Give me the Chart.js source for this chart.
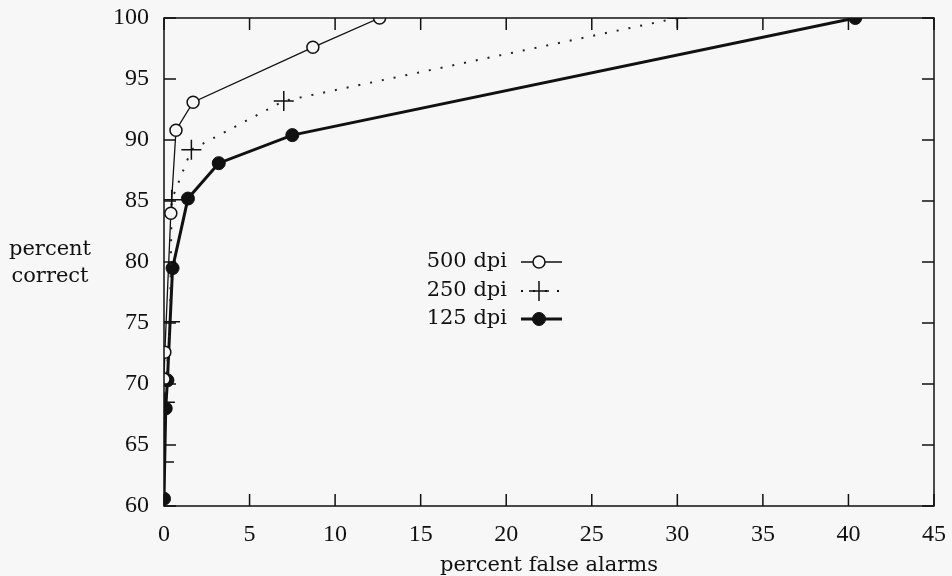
<!DOCTYPE html>
<html>
<head>
<meta charset="utf-8">
<script src="https://cdn.jsdelivr.net/npm/chart.js@4.4.1/dist/chart.umd.min.js"></script>
<style>
    html, body { margin: 0; padding: 0; background: #f7f7f7; }
    #wrap { width: 952px; height: 576px; }
</style>
</head>
<body>
<div id="wrap"><canvas id="roc-chart" width="952" height="576"></canvas></div>
<script>
// values
const xTicks = [0, 5, 10, 15, 20, 25, 30, 35, 40, 45];
const yTicks = [60, 65, 70, 75, 80, 85, 90, 95, 100];

const dpi500X = [12.6, 8.7, 1.7, 0.7, 0.4, 0.05, 0.0];
const dpi500Y = [100, 97.6, 93.1, 90.8, 84.0, 72.6, 70.4];

const dpi250X = [30.0, 7.0, 1.6, 0.45, 0.35, 0.05, 0.0];
const dpi250Y = [100, 93.2, 89.2, 85.1, 75.1, 68.5, 63.6];

const dpi125X = [40.4, 7.5, 3.2, 1.4, 0.5, 0.2, 0.1, 0.0];
const dpi125Y = [100, 90.4, 88.1, 85.2, 79.5, 70.3, 68.0, 60.6];

const legendLabels = ["500 dpi", "250 dpi", "125 dpi"];

const wordFont = "'DejaVu Serif', 'Liberation Serif', serif";
const numFont = "'Liberation Serif', 'DejaVu Serif', serif";
const bg = "#f7f7f7";

function toPoints(xs, ys){
    return xs.map((x, i) => ({x: x, y: ys[i]}));
}

// gnuplot style box, inward ticks, legend and y label
const frame = {
    id: "frame",
    beforeDraw(chart){
        const ctx = chart.ctx;
        ctx.save();
        ctx.fillStyle = bg;
        ctx.fillRect(0, 0, chart.width, chart.height);
        ctx.restore();
    },
    afterDraw(chart){
        const ctx = chart.ctx;
        const area = chart.chartArea;
        const xs = chart.scales.x;
        const ys = chart.scales.y;
        const len = 12;

        ctx.save();
        ctx.strokeStyle = "#111";
        ctx.lineWidth = 1.5;
        ctx.strokeRect(area.left, area.top, area.right - area.left, area.bottom - area.top);

        ctx.beginPath();
        xTicks.forEach(v => {
            const px = xs.getPixelForValue(v);
            ctx.moveTo(px, area.bottom); ctx.lineTo(px, area.bottom - len);
            ctx.moveTo(px, area.top); ctx.lineTo(px, area.top + len);
        });
        yTicks.forEach(v => {
            const py = ys.getPixelForValue(v);
            ctx.moveTo(area.left, py); ctx.lineTo(area.left + len, py);
            ctx.moveTo(area.right, py); ctx.lineTo(area.right - len, py);
        });
        ctx.stroke();

        // y axis label, horizontal on two lines
        ctx.fillStyle = "#111";
        ctx.font = "21px " + wordFont;
        ctx.textAlign = "center";
        ctx.textBaseline = "middle";
        ctx.fillText("percent", 50, 250);
        ctx.fillText("correct", 50, 277);

        // legend: text on the left, sample on the right
        const rows = [262, 291, 319];
        chart.data.datasets.forEach((ds, i) => {
            const y = rows[i];
            ctx.fillStyle = "#111";
            ctx.textAlign = "right";
            ctx.fillText(legendLabels[i], 507, y);

            ctx.save();
            ctx.strokeStyle = "#111";
            ctx.lineWidth = ds.borderWidth;
            ctx.setLineDash(ds.borderDash || []);
            ctx.beginPath();
            ctx.moveTo(521, y);
            ctx.lineTo(562, y);
            ctx.stroke();
            ctx.restore();

            const cx = 539;
            ctx.beginPath();
            if (ds.pointStyle === "cross"){
                ctx.lineWidth = 1.5;
                ctx.moveTo(cx - ds.pointRadius, y); ctx.lineTo(cx + ds.pointRadius, y);
                ctx.moveTo(cx, y - ds.pointRadius); ctx.lineTo(cx, y + ds.pointRadius);
                ctx.stroke();
            } else {
                ctx.arc(cx, y, ds.pointRadius, 0, Math.PI * 2);
                ctx.fillStyle = ds.pointBackgroundColor;
                ctx.fill();
                ctx.lineWidth = ds.pointBorderWidth;
                ctx.stroke();
            }
        });
        ctx.restore();
    }
};

const rocChart = document.getElementById("roc-chart").getContext("2d");

new Chart(rocChart, {
    type: "line",
    data: {
        datasets: [{
            label: legendLabels[0],
            data: toPoints(dpi500X, dpi500Y),
            borderColor: "#111",
            borderWidth: 1.3,
            pointStyle: "circle",
            pointRadius: 6,
            pointBorderWidth: 1.5,
            pointBorderColor: "#111",
            pointBackgroundColor: bg,
            tension: 0
        }, {
            label: legendLabels[1],
            data: toPoints(dpi250X, dpi250Y),
            borderColor: "#222",
            borderWidth: 2,
            borderDash: [2, 10],
            pointStyle: "cross",
            pointRadius: 10,
            pointBorderWidth: 1.5,
            pointBorderColor: "#111",
            tension: 0
        }, {
            label: legendLabels[2],
            data: toPoints(dpi125X, dpi125Y),
            borderColor: "#111",
            borderWidth: 3,
            pointStyle: "circle",
            pointRadius: 6.5,
            pointBorderWidth: 1,
            pointBorderColor: "#111",
            pointBackgroundColor: "#111",
            tension: 0
        }]
    },
    options: {
        responsive: false,
        animation: false,
        layout: { padding: { top: 18, right: 18, left: 0, bottom: 0 } },
        plugins: {
            legend: { display: false },
            tooltip: { enabled: false }
        },
        scales: {
            x: {
                type: "linear",
                min: 0,
                max: 45,
                afterFit: scale => {
                    scale.height = 70;
                    scale.paddingLeft = 0;
                    scale.paddingRight = 0;
                },
                afterBuildTicks: scale => { scale.ticks = xTicks.map(v => ({value: v})); },
                grid: { display: false, drawTicks: false },
                border: { display: false },
                ticks: { color: "#111", padding: 14, font: { family: numFont, size: 24 } },
                title: {
                    display: true,
                    text: "percent false alarms",
                    color: "#111",
                    padding: { top: 0, bottom: -2 },
                    font: { family: wordFont, size: 21 }
                }
            },
            y: {
                type: "linear",
                min: 60,
                max: 100,
                afterFit: scale => {
                    scale.width = 164;
                    scale.paddingTop = 0;
                    scale.paddingBottom = 0;
                },
                afterBuildTicks: scale => { scale.ticks = yTicks.map(v => ({value: v})); },
                grid: { display: false, drawTicks: false },
                border: { display: false },
                ticks: { color: "#111", padding: 15, font: { family: numFont, size: 24 } }
            }
        }
    },
    plugins: [frame]
});
</script>
</body>
</html>
